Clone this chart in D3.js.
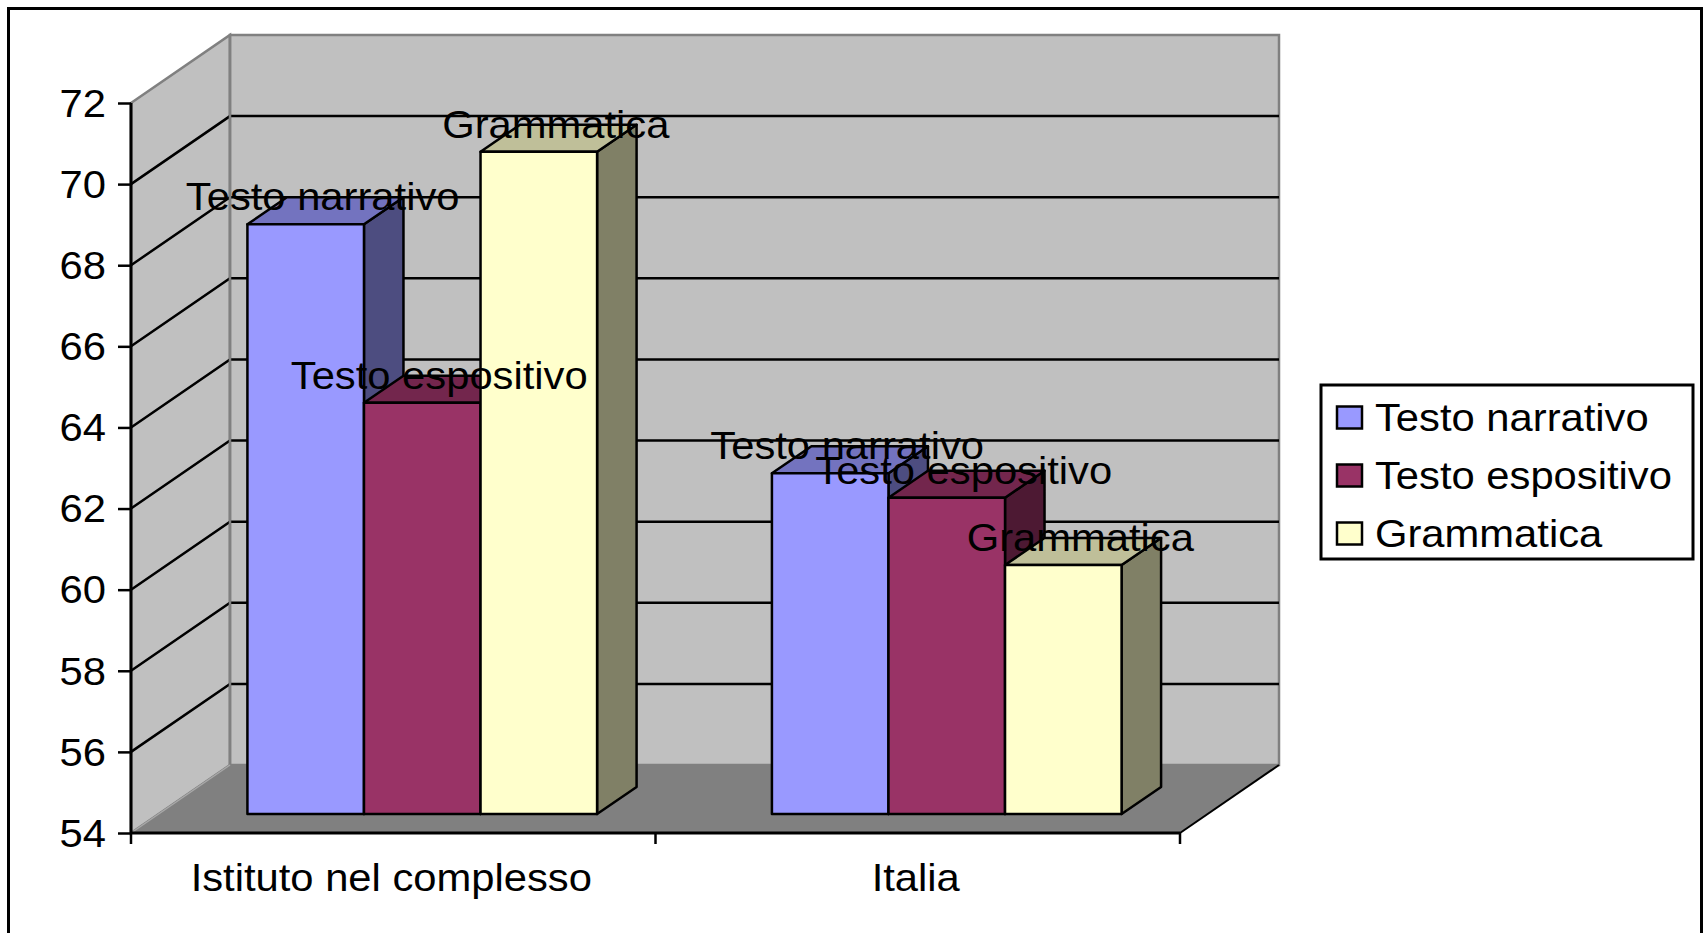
<!DOCTYPE html>
<html><head><meta charset="utf-8">
<style>html,body{margin:0;padding:0;background:#fff;overflow:hidden}svg{display:block}text{font-family:"Liberation Sans",Arial,sans-serif;fill:#000}</style>
<script src="https://cdn.jsdelivr.net/npm/d3@7"></script>
</head><body><svg id="c" width="1705" height="933"></svg>
<script>
const categories = ["Istituto nel complesso", "Italia"];
const seriesNames = ["Testo narrativo", "Testo espositivo", "Grammatica"];
const testoNarrativo = [68.54, 62.4];
const testoEspositivo = [64.14, 61.8];
const grammatica = [70.33, 60.14];
const seriesValues = [testoNarrativo, testoEspositivo, grammatica];
const frontColors = ["#9999FF", "#993366", "#FFFFCC"];
const topColors = ["#7373BF", "#73264D", "#BFBF99"];
const sideColors = ["#4D4D80", "#4D1933", "#808066"];
const yTicks = [54, 56, 58, 60, 62, 64, 66, 68, 70, 72];

const svg = d3.select("#c");
const FS = 39, STRETCH = 1.07, LW = 2.5;
const depthX = 99, depthY = 68, barFrontX = 29, barFrontY = 19, barDepthX = 39.5, barDepthY = 27;
const y = d3.scaleLinear().domain([54, 72]).range([833, 103]);
const x0 = d3.scaleBand().domain(categories).range([131, 1180]);
const x1 = d3.scaleBand().domain(seriesNames).range([0, x0.bandwidth()]).paddingOuter(0.75).paddingInner(0);
const L = x0.range()[0], R = x0.range()[1], B = y(54), T = y(72);
const poly = pts => pts.map(p => p.join(",")).join(" ");
const addPoly = (g, pts, fill) => g.append("polygon").attr("points", poly(pts)).attr("fill", fill);

// frame
svg.append("rect").attr("x", 8.5).attr("y", 8.5).attr("width", 1693).attr("height", 940)
  .attr("fill", "#fff").attr("stroke", "#000").attr("stroke-width", 3);

// walls
const walls = svg.append("g").attr("stroke", "#808080").attr("stroke-width", 2.5);
addPoly(walls, [[L, T], [L + depthX, T - depthY], [L + depthX, B - depthY], [L, B]], "#C0C0C0");
addPoly(walls, [[L + depthX, T - depthY], [R + depthX, T - depthY], [R + depthX, B - depthY], [L + depthX, B - depthY]], "#C0C0C0");

// gridlines
const grid = svg.append("g").attr("stroke", "#000").attr("stroke-width", LW).attr("fill", "none");
yTicks.filter(t => t > 54 && t < 72).forEach(t => {
  grid.append("polyline").attr("points", poly([[L, y(t)], [L + depthX, y(t) - depthY], [R + depthX, y(t) - depthY]]));
});

// floor
const floor = svg.append("g");
addPoly(floor, [[L, B], [R, B], [R + depthX, B - depthY], [L + depthX, B - depthY]], "#808080");
floor.append("line").attr("x1", L + depthX).attr("x2", L + depthX).attr("y1", T - depthY).attr("y2", B - depthY)
  .attr("stroke", "#808080").attr("stroke-width", 2.5);
floor.append("line").attr("x1", L).attr("x2", L + depthX).attr("y1", B).attr("y2", B - depthY)
  .attr("stroke", "#A8A8A8").attr("stroke-width", 1.5);

// bars
const bars = svg.append("g").attr("stroke", "#000").attr("stroke-width", LW).attr("stroke-linejoin", "round");
categories.forEach((c, ci) => {
  seriesNames.forEach((s, si) => {
    const v = seriesValues[si][ci];
    const xa = x0(c) + x1(s) + barFrontX, xb = xa + x1.bandwidth();
    const yt = y(v) - barFrontY, yb = B - barFrontY;
    addPoly(bars, [[xb, yt], [xb + barDepthX, yt - barDepthY], [xb + barDepthX, yb - barDepthY], [xb, yb]], sideColors[si]);
    addPoly(bars, [[xa, yt], [xa + barDepthX, yt - barDepthY], [xb + barDepthX, yt - barDepthY], [xb, yt]], topColors[si]);
    addPoly(bars, [[xa, yt], [xb, yt], [xb, yb], [xa, yb]], frontColors[si]);
  });
});

// axes
const yAxis = svg.append("g").attr("transform", `translate(${L},0)`)
  .call(d3.axisLeft(y).tickValues(yTicks).tickSize(13).tickPadding(12).tickFormat(d3.format("d")));
const xAxis = svg.append("g").attr("transform", `translate(0,${B})`)
  .call(d3.axisBottom(x0).tickSize(0).tickPadding(30));
[yAxis, xAxis].forEach(a => {
  a.attr("font-family", null).attr("font-size", null);
  a.selectAll("path.domain").attr("stroke", "#000").attr("stroke-width", 3);
  a.selectAll("line").attr("stroke", "#000").attr("stroke-width", LW);
  a.selectAll("text").style("font-size", FS + "px").attr("fill", "#000");
});
xAxis.selectAll("path.domain").attr("d", `M${L},0H${R}`);
yAxis.selectAll("path.domain").attr("d", `M0,${T}V${B}`);
yAxis.selectAll("text").attr("dy", "0.34em");
xAxis.selectAll("text").attr("dy", "0.71em").attr("dx", -2);
[L, ...categories.map(c => x0(c) + x0.bandwidth())].forEach(px => {
  xAxis.append("line").attr("x1", px).attr("x2", px).attr("y1", 0).attr("y2", 11).attr("stroke", "#000").attr("stroke-width", LW);
});
xAxis.append("line").attr("x1", R).attr("x2", R + depthX).attr("y1", 0).attr("y2", -depthY).attr("stroke", "#000").attr("stroke-width", 2);

// data labels
const labels = svg.append("g").style("font-size", FS + "px").attr("text-anchor", "middle");
categories.forEach((c, ci) => {
  seriesNames.forEach((s, si) => {
    labels.append("text")
      .attr("x", x0(c) + x1(s) + barFrontX + x1.bandwidth() / 2 + 17)
      .attr("y", y(seriesValues[si][ci]) - barFrontY - 14)
      .text(s);
  });
});

// legend
const lg = svg.append("g");
lg.append("rect").attr("x", 1321).attr("y", 385).attr("width", 372).attr("height", 174)
  .attr("fill", "#fff").attr("stroke", "#000").attr("stroke-width", 3);
seriesNames.forEach((s, i) => {
  const top = 406.5 + i * 58;
  lg.append("rect").attr("x", 1337).attr("y", top).attr("width", 25).attr("height", 22)
    .attr("fill", frontColors[i]).attr("stroke", "#000").attr("stroke-width", LW);
  lg.append("text").attr("x", 1375).attr("y", top + 24).style("font-size", FS + "px").text(s);
});

// widen glyphs slightly, as in the reference
svg.selectAll("text").each(function () {
  const n = this.getComputedTextLength();
  d3.select(this).attr("textLength", n * STRETCH).attr("lengthAdjust", "spacingAndGlyphs");
});
</script></body></html>
